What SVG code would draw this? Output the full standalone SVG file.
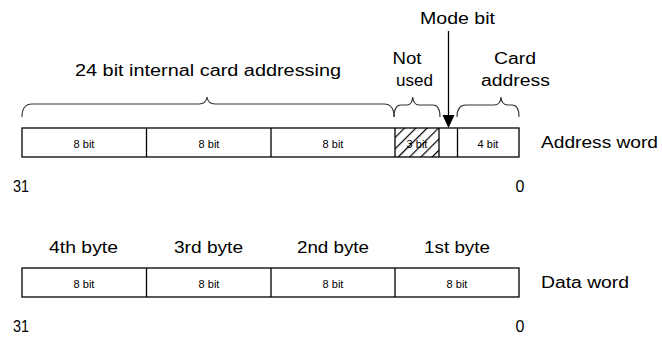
<svg xmlns="http://www.w3.org/2000/svg" width="662" height="338" viewBox="0 0 662 338">
<style>
text{font-family:"Liberation Sans",Arial,sans-serif;fill:#000}
.big{font-size:16px}
.small{font-size:11px;text-anchor:middle}
.box{fill:#fff;stroke:#000;stroke-width:1.3}
.div{stroke:#000;stroke-width:1.3}
.brace{fill:none;stroke:#333;stroke-width:1.1}
</style>
<defs>
<pattern id="hatch" patternUnits="userSpaceOnUse" width="8" height="8" patternTransform="rotate(45)">
<line x1="0.6" y1="0" x2="0.6" y2="8" stroke="#000" stroke-width="1.2"/>
</pattern>
</defs>
<rect width="662" height="338" fill="#fff"/>

<g id="address-word">
<rect class="box" x="22" y="128" width="497" height="29"/>
<rect x="395" y="128" width="44" height="29" fill="url(#hatch)"/>
<line class="div" x1="146.5" y1="128" x2="146.5" y2="157"/>
<line class="div" x1="271" y1="128" x2="271" y2="157"/>
<line class="div" x1="395" y1="128" x2="395" y2="157"/>
<line class="div" x1="439" y1="128" x2="439" y2="157"/>
<line class="div" x1="457.5" y1="128" x2="457.5" y2="157"/>
<text class="small" x="84" y="148">8 bit</text>
<text class="small" x="209" y="148">8 bit</text>
<text class="small" x="333" y="148">8 bit</text>
<text class="small" x="417" y="148">3 bit</text>
<text class="small" x="488" y="148">4 bit</text>
<text class="big" x="541" y="148" textLength="117" lengthAdjust="spacingAndGlyphs">Address word</text>
<text class="big" x="13" y="192" textLength="16" lengthAdjust="spacingAndGlyphs">31</text>
<text class="big" x="520" y="192" text-anchor="middle">0</text>
</g>

<g id="labels-top">
<text class="big" x="208" y="76" text-anchor="middle" textLength="266" lengthAdjust="spacingAndGlyphs">24 bit internal card addressing</text>
<text class="big" x="407" y="64" text-anchor="middle" textLength="29" lengthAdjust="spacingAndGlyphs">Not</text>
<text class="big" x="414.5" y="86" text-anchor="middle" textLength="37" lengthAdjust="spacingAndGlyphs">used</text>
<text class="big" x="515" y="64" text-anchor="middle" textLength="42" lengthAdjust="spacingAndGlyphs">Card</text>
<text class="big" x="515.5" y="86" text-anchor="middle" textLength="69" lengthAdjust="spacingAndGlyphs">address</text>
<text class="big" x="457.5" y="24" text-anchor="middle" textLength="75" lengthAdjust="spacingAndGlyphs">Mode bit</text>
</g>

<g id="connectors">
<path class="brace" d="M22,117 Q22,104 32,104 L199,104 Q206,104 207,97 Q208,104 215,104 L384,104 Q394,104 394,117"/>
<path class="brace" d="M394,117 Q394,105 401,105 L407,105 Q412,105 412.7,97 Q413.5,105 419,105 L433,105 Q440,105 440,117"/>
<path class="brace" d="M457,117 Q457,105 466,105 L494,105 Q500.5,105 501,97 Q501.5,105 508,105 L512,105 Q519,105 519,117"/>
<line x1="448.5" y1="31" x2="448.5" y2="116" stroke="#000" stroke-width="1.3"/>
<polygon points="442.5,115 454.5,115 448.5,128" fill="#000"/>
</g>

<g id="data-word">
<text class="big" x="83.5" y="253" text-anchor="middle" textLength="69" lengthAdjust="spacingAndGlyphs">4th byte</text>
<text class="big" x="208.5" y="253" text-anchor="middle" textLength="69" lengthAdjust="spacingAndGlyphs">3rd byte</text>
<text class="big" x="333" y="253" text-anchor="middle" textLength="72" lengthAdjust="spacingAndGlyphs">2nd byte</text>
<text class="big" x="457" y="253" text-anchor="middle" textLength="66" lengthAdjust="spacingAndGlyphs">1st byte</text>
<rect class="box" x="22" y="268" width="497" height="29"/>
<line class="div" x1="146.5" y1="268" x2="146.5" y2="297"/>
<line class="div" x1="271" y1="268" x2="271" y2="297"/>
<line class="div" x1="395" y1="268" x2="395" y2="297"/>
<text class="small" x="84" y="288">8 bit</text>
<text class="small" x="209" y="288">8 bit</text>
<text class="small" x="333" y="288">8 bit</text>
<text class="small" x="457" y="288">8 bit</text>
<text class="big" x="541" y="288" textLength="88" lengthAdjust="spacingAndGlyphs">Data word</text>
<text class="big" x="13" y="332" textLength="16" lengthAdjust="spacingAndGlyphs">31</text>
<text class="big" x="520" y="332" text-anchor="middle">0</text>
</g>
</svg>
